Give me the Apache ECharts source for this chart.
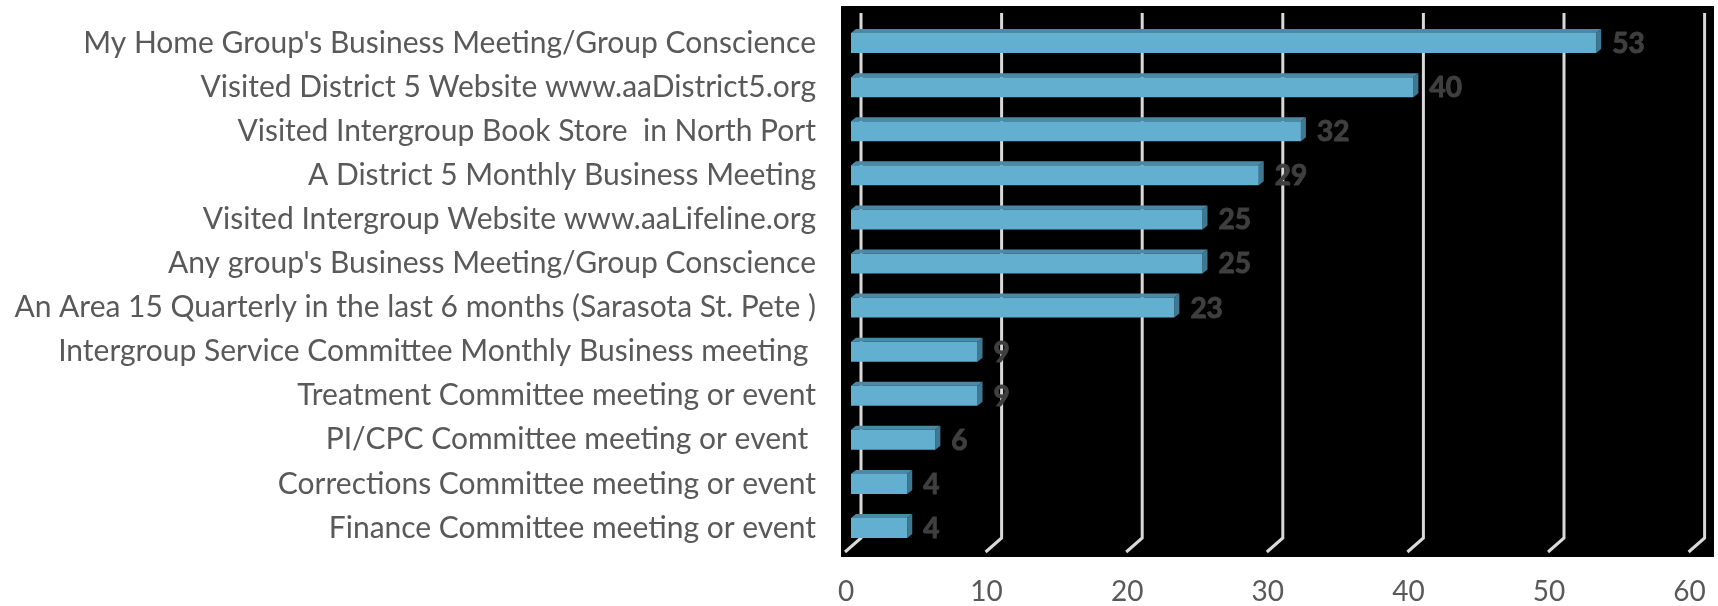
<!DOCTYPE html>
<html><head><meta charset="utf-8">
<script src="https://cdn.jsdelivr.net/npm/echarts@6/dist/echarts.min.js"></script>
<style>html,body{margin:0;padding:0;background:#fff}#c{width:1718px;height:606px}</style>
</head><body><div id="c"></div>
<script>
var categories = [
 "My Home Group's Business Meeting/Group Conscience",
 "Visited District 5 Website www.aaDistrict5.org",
 "Visited Intergroup Book Store  in North Port",
 "A District 5 Monthly Business Meeting",
 "Visited Intergroup Website www.aaLifeline.org",
 "Any group's Business Meeting/Group Conscience",
 "An Area 15 Quarterly in the last 6 months (Sarasota St. Pete )",
 "Intergroup Service Committee Monthly Business meeting ",
 "Treatment Committee meeting or event",
 "PI/CPC Committee meeting or event ",
 "Corrections Committee meeting or event",
 "Finance Committee meeting or event"
];
var values = [53, 40, 32, 29, 25, 25, 23, 9, 9, 6, 4, 4];
var ticks = [0, 10, 20, 30, 40, 50, 60];

var chart = echarts.init(document.getElementById('c'));
var DX = 5, DY = -4;
function barItem(params, api) {
  var idx = api.value(1);
  var v = api.value(0);
  var p0 = api.coord([0, idx]);
  var p1 = api.coord([v, idx]);
  var h = 20;
  var y0 = p0[1] - h / 2;
  var x0 = p0[0], x1 = p1[0];
  return {
    type: 'group',
    children: [
      {type: 'polygon', shape: {points: [[x0, y0], [x0 + DX, y0 + DY], [x1 + DX, y0 + DY], [x1, y0]]}, style: {fill: '#4b8aa6'}},
      {type: 'polygon', shape: {points: [[x1, y0], [x1 + DX, y0 + DY], [x1 + DX, y0 + h + DY], [x1, y0 + h]]}, style: {fill: '#3f7892'}},
      {type: 'rect', shape: {x: x0, y: y0, width: x1 - x0, height: h}, style: {fill: '#62afcf'}},
      {type: 'text', x: x1 + DX + 11, y: p0[1] + 1, style: {text: String(v), fill: '#3f3f3f', stroke: '#3f3f3f', lineWidth: 1, font: 'bold 28px Lato', verticalAlign: 'middle', align: 'left'}}
    ]
  };
}
function gridItem(params, api) {
  var v = api.value(0);
  var p = api.coord([v, 0]);
  var cs = params.coordSys;
  var top = cs.y - 8;
  var bot = cs.y + cs.height - 12;
  var bx = p[0] + 10;
  return {
    type: 'polyline',
    shape: {points: [[bx, top], [bx, bot], [p[0] - 6, bot + 14]]},
    style: {stroke: '#d9d9d9', lineWidth: 3, fill: null}
  };
}
chart.setOption({
  animation: false,
  backgroundColor: '#fff',
  grid: [
    {left: 851, width: 843.6, top: 21, bottom: 55},
    {left: 841, right: 4, top: 6, bottom: 49, show: true, backgroundColor: '#000', borderWidth: 0}
  ],
  xAxis: [
    {type: 'value', gridIndex: 0, min: 0, max: 60, interval: 10,
     splitLine: {show: false}, axisLine: {show: false}, axisTick: {show: false},
     axisLabel: {margin: 28, color: '#595959', fontSize: 28, fontFamily: 'Lato', padding: [0, 10, 0, 0]}},
    {type: 'value', gridIndex: 1, show: false}
  ],
  yAxis: [
    {type: 'category', gridIndex: 0, data: categories, inverse: true,
     axisLine: {show: false}, axisTick: {show: false},
     axisLabel: {margin: 35, color: '#595959', fontSize: 30, fontFamily: 'Lato'}},
    {type: 'value', gridIndex: 1, show: false}
  ],
  series: [
    {type: 'custom', xAxisIndex: 0, yAxisIndex: 0, renderItem: gridItem, z: 1,
     data: ticks.map(function (t) { return [t, 0]; })},
    {type: 'custom', xAxisIndex: 0, yAxisIndex: 0, renderItem: barItem, z: 3,
     data: values.map(function (v, i) { return [v, i]; })}
  ]
});
</script></body></html>
